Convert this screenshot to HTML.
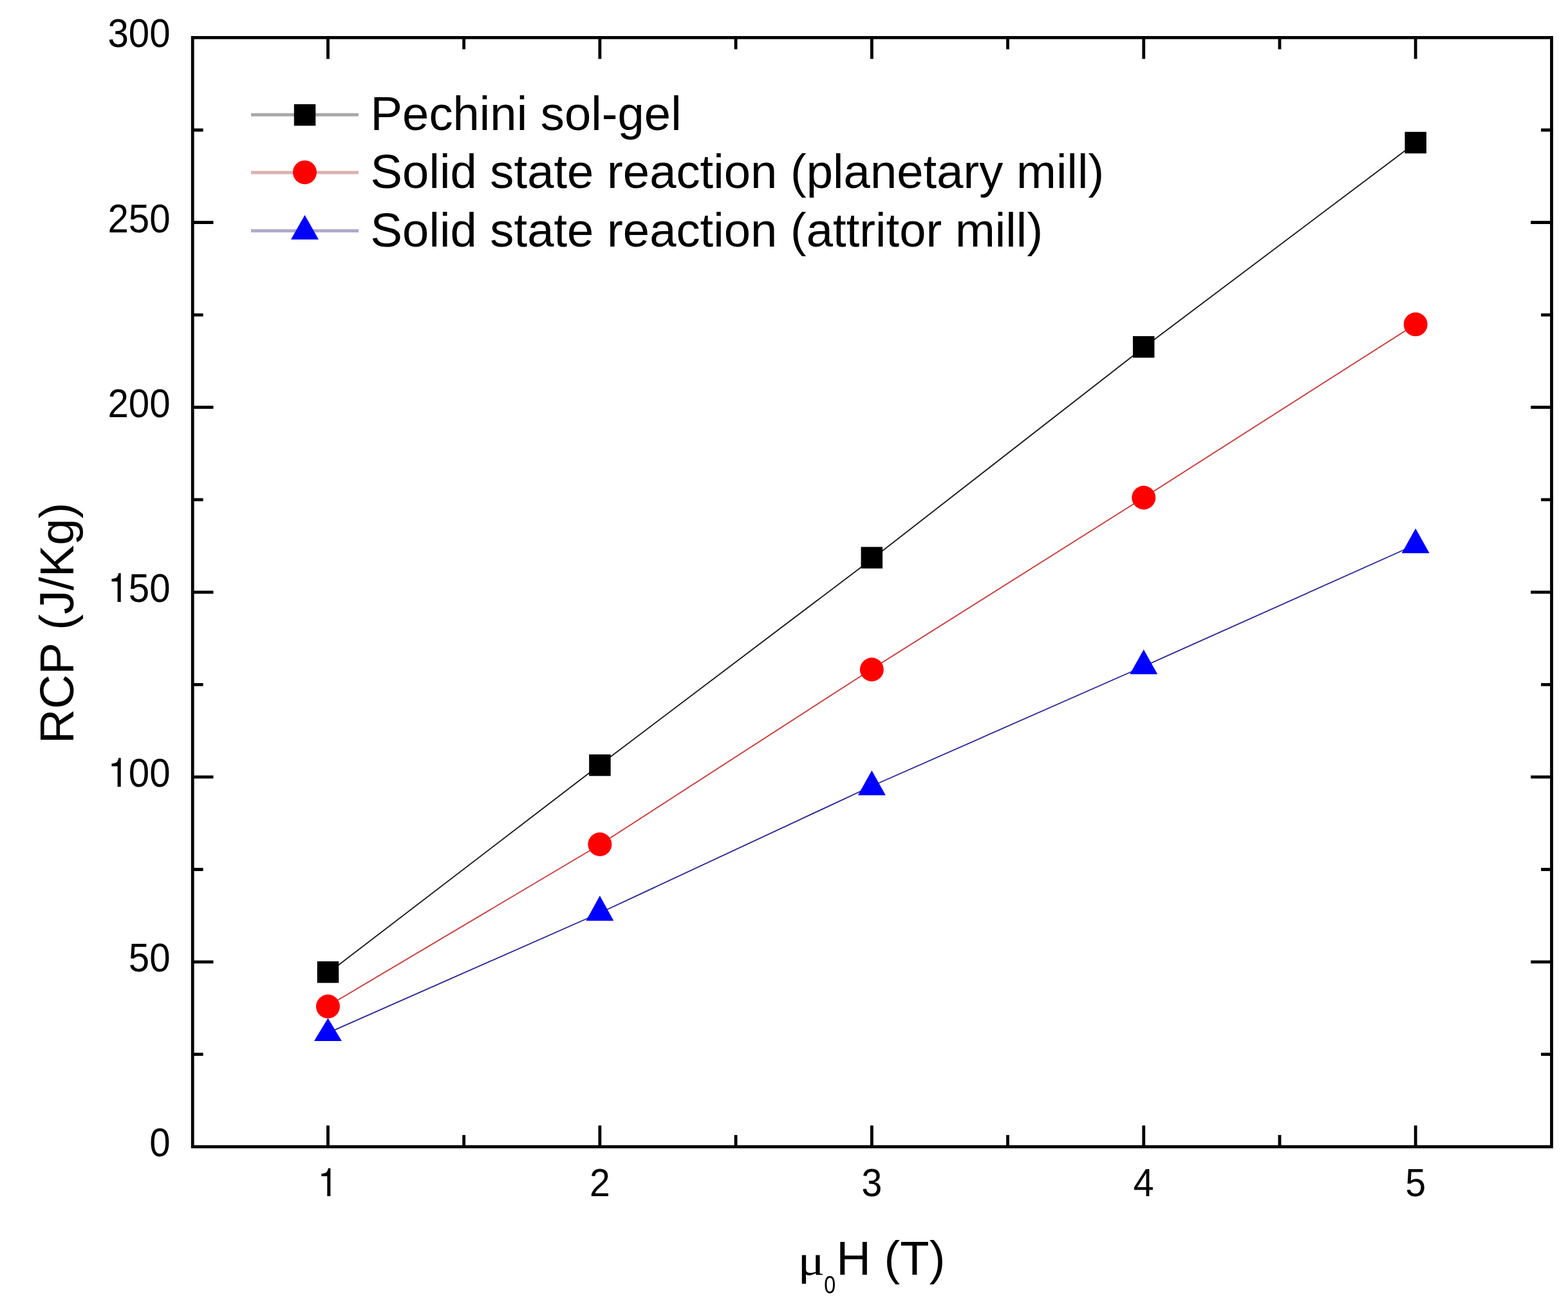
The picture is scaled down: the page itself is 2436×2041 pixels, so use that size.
<!DOCTYPE html><html><head><meta charset="utf-8"><title>RCP vs field</title>
<style>html,body{margin:0;padding:0;background:#fff;}svg{display:block;}text{font-family:"Liberation Sans",Arial,sans-serif;fill:#000;}</style></head><body>
<svg width="2436" height="2041" viewBox="0 0 2436 2041">
<rect x="0" y="0" width="2436" height="2041" fill="#fff"/>
<polyline points="509.5,1511.5 931.9,1188.0 1354.4,868.5 1776.8,539.8 2199.2,221.8" fill="none" stroke="#1a1a1a" stroke-width="1.9" stroke-linejoin="round"/>
<polyline points="509.5,1562.5 931.9,1312.0 1354.4,1039.2 1776.8,773.0 2199.2,503.6" fill="none" stroke="#c83c3c" stroke-width="1.9" stroke-linejoin="round"/>
<polyline points="509.5,1604.3 931.9,1418.0 1354.4,1221.0 1776.8,1035.0 2199.2,846.0" fill="none" stroke="#2a2890" stroke-width="1.9" stroke-linejoin="round"/>
<rect x="492.8" y="1493.2" width="33.5" height="33.5" fill="#000"/>
<rect x="915.2" y="1171.8" width="33.5" height="33.5" fill="#000"/>
<rect x="1337.6" y="849.5" width="33.5" height="33.5" fill="#000"/>
<rect x="1760.0" y="522.1" width="33.5" height="33.5" fill="#000"/>
<rect x="2182.5" y="204.8" width="33.5" height="33.5" fill="#000"/>
<circle cx="509.5" cy="1563.3" r="18.5" fill="#f00"/>
<circle cx="931.9" cy="1311.5" r="18.5" fill="#f00"/>
<circle cx="1354.4" cy="1040.0" r="18.5" fill="#f00"/>
<circle cx="1776.8" cy="773.0" r="18.5" fill="#f00"/>
<circle cx="2199.2" cy="503.8" r="18.5" fill="#f00"/>
<polygon points="509.5,1581.5 531.0,1617.0 488.0,1617.0" fill="#00f"/>
<polygon points="931.9,1391.2 953.4,1430.2 910.4,1430.2" fill="#00f"/>
<polygon points="1354.4,1196.8 1375.9,1235.3 1332.9,1235.3" fill="#00f"/>
<polygon points="1776.8,1008.8 1798.3,1047.3 1755.3,1047.3" fill="#00f"/>
<polygon points="2199.2,820.7 2220.7,859.2 2177.7,859.2" fill="#00f"/>
<rect x="299.2" y="58.4" width="2111.3" height="1722.8" fill="none" stroke="#000" stroke-width="4.8"/>
<path d="M299.2 1637.6H315.6M2410.5 1637.6H2394.1M299.2 1494.1H331.5M2410.5 1494.1H2378.2M299.2 1350.5H315.6M2410.5 1350.5H2394.1M299.2 1206.9H331.5M2410.5 1206.9H2378.2M299.2 1063.4H315.6M2410.5 1063.4H2394.1M299.2 919.8H331.5M2410.5 919.8H2378.2M299.2 776.2H315.6M2410.5 776.2H2394.1M299.2 632.7H331.5M2410.5 632.7H2378.2M299.2 489.1H315.6M2410.5 489.1H2394.1M299.2 345.5H331.5M2410.5 345.5H2378.2M299.2 202.0H315.6M2410.5 202.0H2394.1M509.5 1781.2V1748.2M509.5 58.4V91.4M720.7 1781.2V1763.0M720.7 58.4V76.6M931.9 1781.2V1748.2M931.9 58.4V91.4M1143.1 1781.2V1763.0M1143.1 58.4V76.6M1354.4 1781.2V1748.2M1354.4 58.4V91.4M1565.6 1781.2V1763.0M1565.6 58.4V76.6M1776.8 1781.2V1748.2M1776.8 58.4V91.4M1988.0 1781.2V1763.0M1988.0 58.4V76.6M2199.2 1781.2V1748.2M2199.2 58.4V91.4" stroke="#000" stroke-width="4.8" fill="none"/>
<text x="0" y="0" font-size="61.0" text-anchor="end" transform="translate(264.6 1796.2) scale(0.955 1.025)">0</text>
<text x="0" y="0" font-size="61.0" text-anchor="end" transform="translate(264.6 1509.1) scale(0.955 1.025)">50</text>
<text x="0" y="0" font-size="61.0" text-anchor="end" transform="translate(264.6 1221.9) scale(0.955 1.025)"><tspan style="font-family:FreeSans,'Liberation Sans',sans-serif">1</tspan>00</text>
<text x="0" y="0" font-size="61.0" text-anchor="end" transform="translate(264.6 934.8) scale(0.955 1.025)"><tspan style="font-family:FreeSans,'Liberation Sans',sans-serif">1</tspan>50</text>
<text x="0" y="0" font-size="61.0" text-anchor="end" transform="translate(264.6 647.7) scale(0.955 1.025)">200</text>
<text x="0" y="0" font-size="61.0" text-anchor="end" transform="translate(264.6 360.5) scale(0.955 1.025)">250</text>
<text x="0" y="0" font-size="61.0" text-anchor="end" transform="translate(264.6 73.4) scale(0.955 1.025)">300</text>
<text x="0" y="0" font-size="61.0" text-anchor="middle" transform="translate(509.5 1858) scale(0.94 1)"><tspan style="font-family:FreeSans,'Liberation Sans',sans-serif">1</tspan></text>
<text x="0" y="0" font-size="61.0" text-anchor="middle" transform="translate(931.9 1858) scale(0.94 1)">2</text>
<text x="0" y="0" font-size="61.0" text-anchor="middle" transform="translate(1354.4 1858) scale(0.94 1)">3</text>
<text x="0" y="0" font-size="61.0" text-anchor="middle" transform="translate(1776.8 1858) scale(0.94 1)">4</text>
<text x="0" y="0" font-size="61.0" text-anchor="middle" transform="translate(2199.2 1858) scale(0.94 1)">5</text>
<text transform="translate(113.7 967.8) rotate(-90)" font-size="74.3" text-anchor="middle">RCP (J/Kg)</text>
<text x="0" y="0" font-size="65" style="font-family:'Liberation Serif',serif" transform="translate(1239.5 1979.5) scale(1.2 1)">μ</text>
<text x="0" y="0" font-size="39.5" transform="translate(1280.3 2008.6) scale(0.82 1)">0</text>
<text x="1299.3" y="1979.5" font-size="74.3">H (T)</text>
<line x1="390.0" y1="178.3" x2="557.0" y2="178.3" stroke="#a8a8a8" stroke-width="5"/>
<rect x="456.8" y="161.8" width="33.5" height="33.5" fill="#000"/>
<text x="575.5" y="202.2" font-size="74.3">Pechini sol-gel</text>
<line x1="390.0" y1="267.9" x2="557.0" y2="267.9" stroke="#dcb0b0" stroke-width="5"/>
<circle cx="473.5" cy="267.7" r="18.5" fill="#f00"/>
<text x="575.5" y="292.0" font-size="74.3">Solid state reaction (planetary mill)</text>
<line x1="390.0" y1="358.4" x2="557.0" y2="358.4" stroke="#b0aacb" stroke-width="5"/>
<polygon points="473.5,334.0 495.0,372.0 452.0,372.0" fill="#00f"/>
<text x="575.5" y="383.3" font-size="74.3">Solid state reaction (attritor mill)</text>
</svg></body></html>
